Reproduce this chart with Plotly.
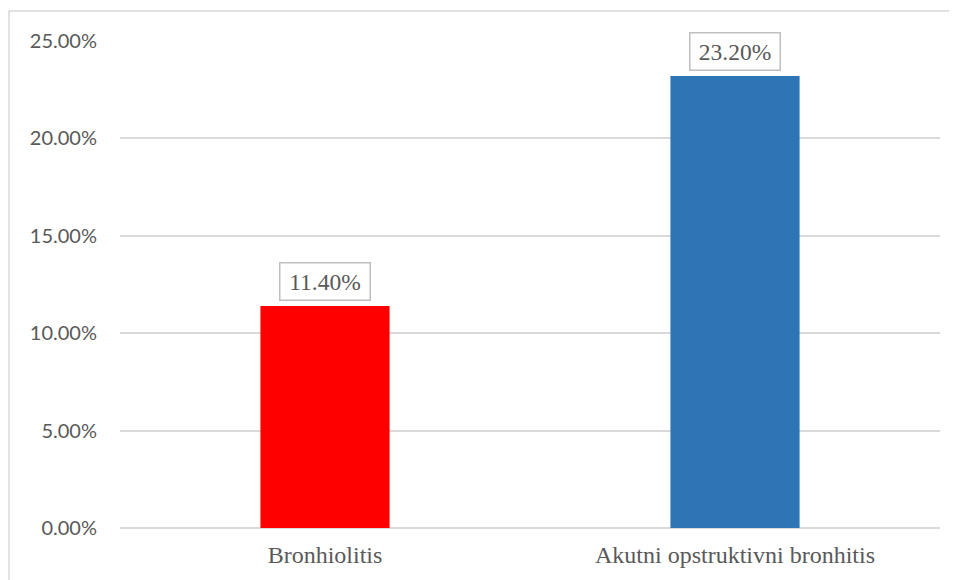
import plotly.graph_objects as go

categories = ["Bronhiolitis", "Akutni opstruktivni bronhitis"]
values = [0.114, 0.232]
value_labels = ["11.40%", "23.20%"]
colors = ["#FF0000", "#2E75B6"]

fig = go.Figure()
fig.add_trace(go.Bar(x=categories, y=values, marker=dict(color=colors, line=dict(width=0)),
                     hoverinfo="skip"))

for c, v, t in zip(categories, values, value_labels):
    fig.add_annotation(x=c, y=v, text=t, showarrow=False, yanchor="bottom", yshift=5,
                       font=dict(family="Liberation Serif", size=23.5, color="#595959"),
                       bordercolor="#BFBFBF", borderwidth=1.5, borderpad=3,
                       bgcolor="white", width=83, height=30)

fig.update_layout(
    width=949, height=572,
    margin=dict(l=112, r=17, t=33, b=50),
    paper_bgcolor="white", plot_bgcolor="white",
    bargap=0.685,
    showlegend=False,
    xaxis=dict(showgrid=False, ticks="", showline=False, ticklabelstandoff=10,
               tickfont=dict(family="Liberation Serif", size=24, color="#595959")),
    yaxis=dict(range=[0, 0.25], dtick=0.05, tickformat=".2%", showgrid=True,
               gridcolor="#D9D9D9", gridwidth=1.5, zeroline=True, zerolinecolor="#D9D9D9",
               zerolinewidth=1.5, showline=False, ticks="", ticklabelstandoff=22,
               tickfont=dict(family="Lato", size=20, color="#595959")),
)

# figure border (top and left edges visible)
fig.add_shape(type="line", xref="paper", yref="paper", x0=-0.1354, x1=1.05, y0=1.0614, y1=1.0614,
              line=dict(color="#D9D9D9", width=1.5))
fig.add_shape(type="line", xref="paper", yref="paper", x0=-0.1354, x1=-0.1354, y0=1.0614, y1=-0.2,
              line=dict(color="#D9D9D9", width=1.5))

fig.write_html("out.html")
